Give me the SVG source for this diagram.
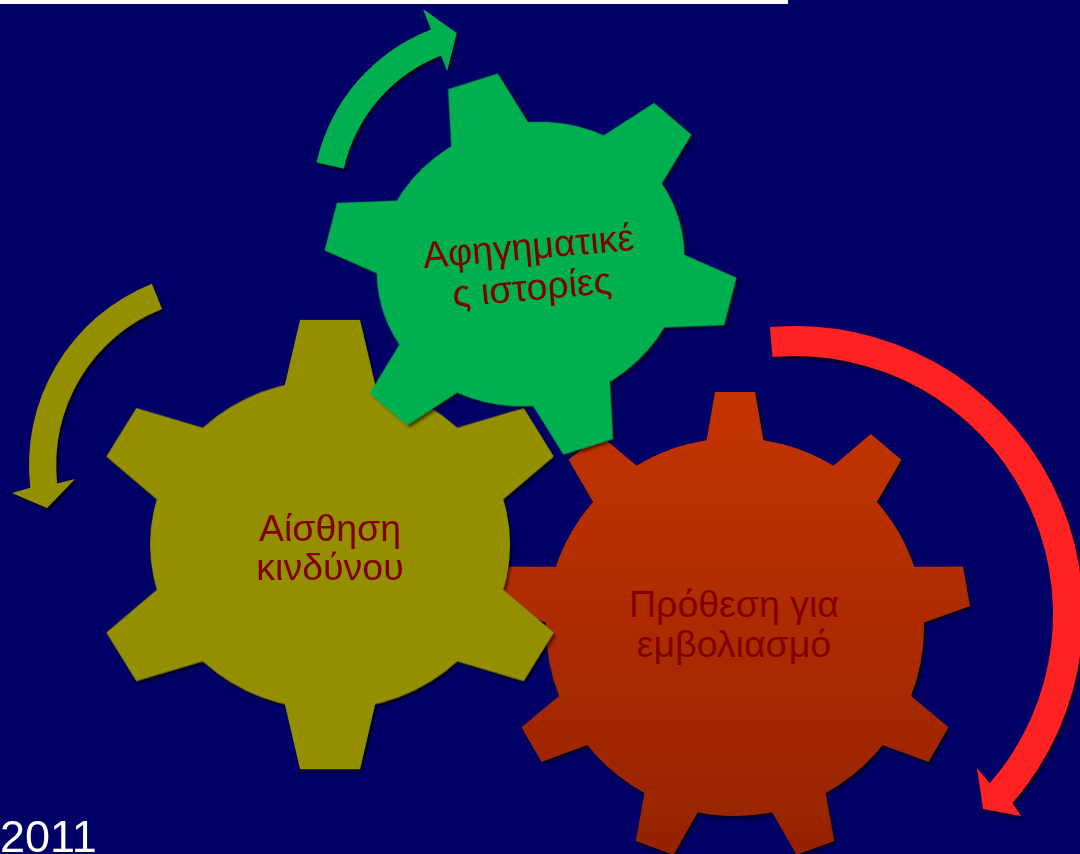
<svg xmlns="http://www.w3.org/2000/svg" xmlns:xlink="http://www.w3.org/1999/xlink" width="1080" height="854" viewBox="0 0 1080 854">
<style>
.lbl{font-family:"Liberation Sans",Arial,sans-serif;font-size:37.5px;fill:#800000;text-anchor:middle}
.yr{font-family:"Liberation Sans",Arial,sans-serif;font-size:45px;fill:#ffffff}
</style>
<defs>
<filter id="sh" x="-10%" y="-10%" width="120%" height="120%">
<feDropShadow dx="2" dy="3" stdDeviation="1.5" flood-color="#000000" flood-opacity="0.6"/>
</filter>
<path id="to" d="M-30,-241 L30,-241 L52,-140 L-52,-140 Z"/>
<path id="tg" d="M-26,-207 L26,-207 L49,-110 L-49,-110 Z"/>
<path id="tr" d="M-20,-235 L20,-235 L33,-160 L-33,-160 Z"/>
<linearGradient id="rg" gradientUnits="userSpaceOnUse" x1="0" y1="392" x2="0" y2="862">
<stop offset="0" stop-color="#c43400"/>
<stop offset="1" stop-color="#952300"/>
</linearGradient>
<clipPath id="redclip">
<circle cx="735" cy="627" r="189"/>
<use xlink:href="#tr" href="#tr" transform="translate(735,627)"/>
<use xlink:href="#tr" href="#tr" transform="translate(735,627) rotate(40)"/>
<use xlink:href="#tr" href="#tr" transform="translate(735,627) rotate(80)"/>
<use xlink:href="#tr" href="#tr" transform="translate(735,627) rotate(120)"/>
<use xlink:href="#tr" href="#tr" transform="translate(735,627) rotate(160)"/>
<use xlink:href="#tr" href="#tr" transform="translate(735,627) rotate(200)"/>
<use xlink:href="#tr" href="#tr" transform="translate(735,627) rotate(240)"/>
<use xlink:href="#tr" href="#tr" transform="translate(735,627) rotate(280)"/>
<use xlink:href="#tr" href="#tr" transform="translate(735,627) rotate(320)"/>
</clipPath>
</defs>
<rect x="0" y="0" width="1080" height="854" fill="#000066"/>
<rect x="0" y="0" width="788" height="4" fill="#ffffff"/>

<g id="gear-red">
<g filter="url(#sh)">
<rect x="480" y="380" width="510" height="490" fill="url(#rg)" clip-path="url(#redclip)"/>
</g>
<text class="lbl" x="734" y="617">Πρόθεση για</text>
<text class="lbl" x="734" y="657">εμβολιασμό</text>
</g>

<g id="gear-olive">
<g filter="url(#sh)" fill="#948f00" transform="translate(330,544.5)">
<ellipse cx="0" cy="0" rx="180" ry="165"/>
<g transform="scale(1,0.932)">
<use xlink:href="#to" href="#to"/>
<use xlink:href="#to" href="#to" transform="rotate(60)"/>
<use xlink:href="#to" href="#to" transform="rotate(120)"/>
<use xlink:href="#to" href="#to" transform="rotate(180)"/>
<use xlink:href="#to" href="#to" transform="rotate(240)"/>
<use xlink:href="#to" href="#to" transform="rotate(300)"/>
</g>
</g>
<text class="lbl" x="330" y="541">Αίσθηση</text>
<text class="lbl" x="330" y="580">κινδύνου</text>
</g>

<g id="gear-green">
<g filter="url(#sh)" fill="#00b050" transform="translate(530.5,264) rotate(-17.5)">
<ellipse cx="0" cy="0" rx="155" ry="141"/>
<g transform="scale(1,0.925)">
<use xlink:href="#tg" href="#tg"/>
<use xlink:href="#tg" href="#tg" transform="rotate(60)"/>
<use xlink:href="#tg" href="#tg" transform="rotate(120)"/>
<use xlink:href="#tg" href="#tg" transform="rotate(180)"/>
<use xlink:href="#tg" href="#tg" transform="rotate(240)"/>
<use xlink:href="#tg" href="#tg" transform="rotate(300)"/>
</g>
</g>
<text class="lbl" transform="rotate(-5 531 277)" x="531" y="259">Αφηγηματικέ</text>
<text class="lbl" transform="rotate(-5 531 277)" x="531" y="300">ς ιστορίες</text>
</g>

<g id="connectors" filter="url(#sh)">
<path id="arrow-green" fill="#00b050" d="M316.5,162.4 A186,186 0 0 1 431,29.5 L423.1,8.9 L456.6,33 L447.1,71 L441.1,55.6 A158,158 0 0 0 343.8,168.5 Z"/>
<path id="arrow-olive" fill="#948f00" d="M151.9,283.8 A195,195 0 0 0 30.3,487.8 L12,493 L47,508 L75,479 L57.1,483.5 A168,168 0 0 1 161.9,308.9 Z"/>
<path id="arrow-red" fill="#ff2020" d="M769.9,327.1 A288,288 0 0 1 1012.4,803 L1021,816 L983,809 L977,768 L989.7,783.3 A258,258 0 0 0 772.5,357 Z"/>
</g>

<text class="yr" x="0" y="852">2011</text>
</svg>
